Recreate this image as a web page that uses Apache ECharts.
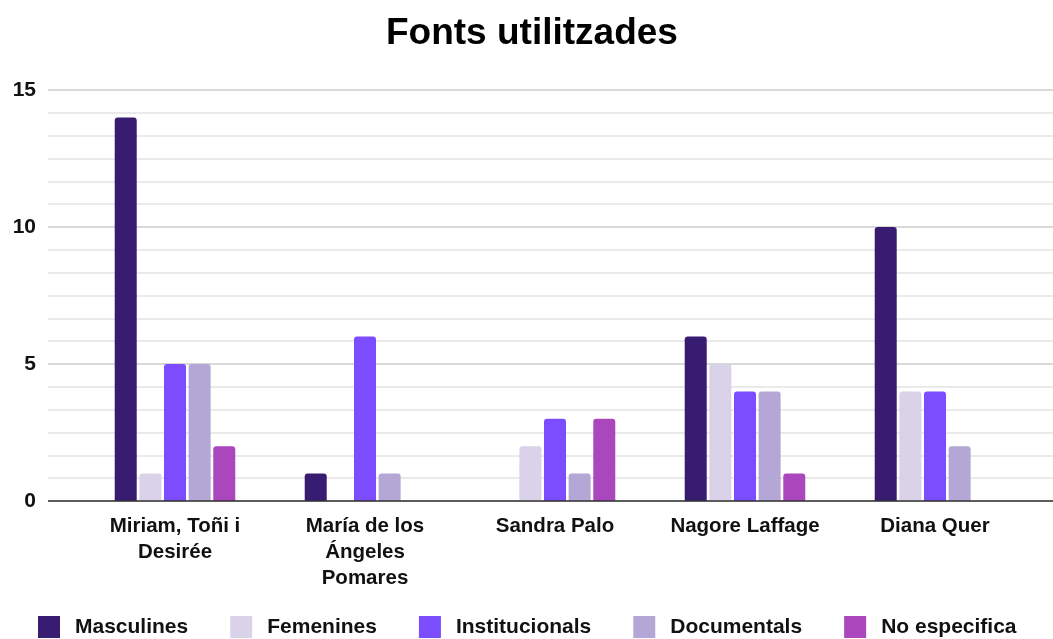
<!DOCTYPE html>
<html lang="ca">
<head>
<meta charset="utf-8"/>
<title>Fonts utilitzades</title>
<script src="https://cdn.jsdelivr.net/npm/echarts@6/dist/echarts.min.js"></script>
<style>
  html, body { margin: 0; padding: 0; background: #fff; }
  #chart { width: 1053px; height: 639px; }
</style>
</head>
<body>
<div id="chart"></div>
<script>
// categories (x axis)
var categories = ['Miriam, Toñi i\nDesirée', 'María de los\nÁngeles\nPomares', 'Sandra Palo', 'Nagore Laffage', 'Diana Quer'];
var seriesNames = ['Masculines', 'Femenines', 'Institucionals', 'Documentals', 'No especifica'];
var colors = ['#371c72', '#d9d2e9', '#7c4dff', '#b4a7d6', '#ab47bc'];

var masculines     = [14, 1, 0, 6, 10];
var femenines      = [1, 0, 2, 5, 4];
var institucionals = [5, 6, 3, 4, 4];
var documentals    = [5, 1, 1, 4, 2];
var noEspecifica   = [2, 0, 3, 1, 0];

var allData = [masculines, femenines, institucionals, documentals, noEspecifica];

var myChart = echarts.init(document.getElementById('chart'));

var series = [];
for (var i = 0; i < seriesNames.length; i++) {
  series.push({
    name: seriesNames[i],
    type: 'bar',
    xAxisIndex: 1,
    yAxisIndex: 1,
    data: allData[i],
    barWidth: 22,
    barGap: '12%',
    itemStyle: { color: colors[i], borderRadius: [3, 3, 0, 0] }
  });
}

myChart.setOption({
  animation: false,
  textStyle: { fontFamily: 'Liberation Sans, Arial, sans-serif' },
  title: {
    text: 'Fonts utilitzades',
    left: 381,
    top: 10,
    textStyle: { fontSize: 37, fontWeight: 'bold', color: '#000' }
  },
  legend: {
    data: seriesNames,
    bottom: -4,
    left: 33,
    itemWidth: 22,
    itemHeight: 22,
    itemGap: 42,
    icon: 'rect',
    textStyle: { fontSize: 21, fontWeight: 'bold', color: '#111', padding: [0, 0, 0, 10] }
  },
  grid: [
    // background grid: gridlines, y labels and baseline
    { left: 48, right: 0, top: 90, bottom: 138 },
    // bars
    { left: 80, right: 23, top: 90, bottom: 138 }
  ],
  xAxis: [
    {
      gridIndex: 0, type: 'value', min: 0, max: 1,
      axisLine: { show: false }, axisTick: { show: false },
      axisLabel: { show: false }, splitLine: { show: false }
    },
    {
      gridIndex: 1, type: 'category', data: categories,
      axisLine: { show: false }, axisTick: { show: false },
      axisLabel: {
        fontSize: 20.5, fontWeight: 'bold', color: '#111',
        lineHeight: 26, margin: 12, interval: 0
      }
    }
  ],
  yAxis: [
    {
      gridIndex: 0, type: 'value', min: 0, max: 15, interval: 5,
      axisLine: { show: false }, axisTick: { show: false },
      axisLabel: { fontSize: 21, fontWeight: 'bold', color: '#111', margin: 12 },
      splitLine: { lineStyle: { color: '#cccccc', width: 1.5 } },
      minorTick: { show: false, splitNumber: 6 },
      minorSplitLine: { show: true, lineStyle: { color: '#e3e3e3', width: 1.5 } }
    },
    {
      gridIndex: 1, type: 'value', min: 0, max: 15, interval: 5,
      axisLine: { show: false }, axisTick: { show: false },
      axisLabel: { show: false }, splitLine: { show: false }
    }
  ],
  series: series.concat([{
    // baseline at 0
    type: 'line',
    xAxisIndex: 0,
    yAxisIndex: 0,
    data: [],
    markLine: {
      silent: true,
      symbol: 'none',
      label: { show: false },
      lineStyle: { color: '#333', width: 1.5, type: 'solid' },
      data: [{ yAxis: 0 }]
    }
  }])
});
</script>
</body>
</html>
